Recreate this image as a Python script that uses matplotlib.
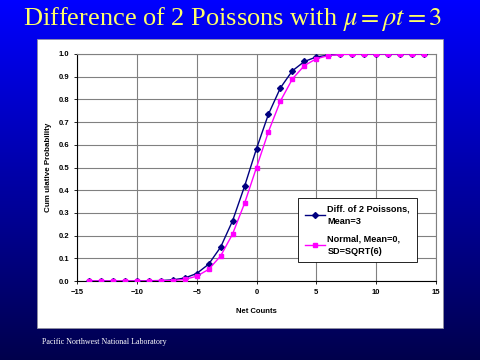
import matplotlib
matplotlib.use("Agg")
import matplotlib.pyplot as plt
from matplotlib.patches import Rectangle
import numpy as np

# Values
net_counts = list(range(-14, 15))
poisson_diff = [0.0, 0.0, 0.0, 0.0, 0.0, 0.001, 0.002, 0.005, 0.013, 0.033,
                0.074, 0.149, 0.265, 0.417, 0.583, 0.735, 0.851, 0.926, 0.967,
                0.987, 0.995, 0.998, 1.0, 1.0, 1.0, 1.0, 1.0, 1.0, 1.0]
normal_cdf = [0.0, 0.0, 0.0, 0.0, 0.0, 0.0, 0.001, 0.002, 0.007, 0.021,
              0.051, 0.110, 0.207, 0.342, 0.5, 0.658, 0.793, 0.890, 0.949,
              0.979, 0.993, 0.998, 0.999, 1.0, 1.0, 1.0, 1.0, 1.0, 1.0]
x_ticks = [-15, -10, -5, 0, 5, 10, 15]
y_ticks = [0.0, 0.1, 0.2, 0.3, 0.4, 0.5, 0.6, 0.7, 0.8, 0.9, 1.0]

plt.rcParams['mathtext.fontset'] = 'stix'

fig = plt.figure(figsize=(4.8, 3.6), dpi=100)

# slide background: vertical blue gradient
bg = fig.add_axes([0, 0, 1, 1], zorder=-10)
grad = np.linspace(0, 1, 256).reshape(-1, 1)
top = np.array([0.0, 0.0, 1.0])
bottom = np.array([0.0, 0.0, 0.30])
img = top + (bottom - top) * grad[:, :, None]
bg.imshow(img, aspect='auto', extent=[0, 1, 0, 1])
bg.set_axis_off()

# white chart panel
fig.patches.append(Rectangle((37 / 480, 1 - 328 / 360), 406 / 480, 289 / 360,
                             transform=fig.transFigure, facecolor='white',
                             edgecolor='#9090a0', linewidth=0.6, zorder=-5))

fig.text(233 / 480, 0.948, r"Difference of 2 Poissons with $\mu = \rho t = 3$",
         family='Liberation Serif', fontsize=19, color='#ffff66',
         ha='center', va='center')
fig.text(42 / 480, 1 - 342 / 360, "Pacific Northwest National Laboratory",
         family='Liberation Serif', fontsize=5.8, color='white',
         ha='left', va='center')

ax = fig.add_axes([77 / 480, 1 - 281 / 360, 359 / 480, 227 / 360])
ax.set_facecolor('white')

ax.plot(net_counts, poisson_diff, color='#000080', marker='D', markersize=3,
        linewidth=1.0, label='Diff. of 2 Poissons,\nMean=3', zorder=3)
ax.plot(net_counts, normal_cdf, color='#ff00ff', marker='s', markersize=3.5,
        linewidth=1.0, label='Normal, Mean=0,\nSD=SQRT(6)', zorder=4)

ax.set_xlim(-15, 15)
ax.set_ylim(0, 1.0)
ax.set_xticks(x_ticks)
ax.set_yticks(y_ticks)
ax.set_yticklabels([f"{v:.1f}" for v in y_ticks])
ax.grid(True, color='#808080', linewidth=0.8)
ax.set_axisbelow(True)
for side in ['top', 'right']:
    ax.spines[side].set_color('#808080')
    ax.spines[side].set_linewidth(0.8)
for side in ['left', 'bottom']:
    ax.spines[side].set_color('black')
    ax.spines[side].set_linewidth(0.8)
ax.tick_params(direction='out', length=2.5, width=0.6, pad=3, labelsize=5.5)
for lbl in ax.get_xticklabels() + ax.get_yticklabels():
    lbl.set_family('Liberation Sans')
    lbl.set_fontweight('bold')

ax.set_xlabel("Net Counts", family='Liberation Sans', fontsize=5.5,
              fontweight='bold', labelpad=9)
ax.set_ylabel("Cum ulative Probability",
              family='Liberation Sans', fontsize=5.8, fontweight='bold',
              labelpad=5)

leg = ax.legend(loc='upper left', bbox_to_anchor=(0.616, 0.366),
                borderaxespad=0,
                prop={'family': 'Liberation Sans', 'weight': 'bold', 'size': 6.6},
                frameon=True, fancybox=False, borderpad=0.7, labelspacing=0.9,
                handlelength=2.2, handletextpad=0.3)
for t in leg.get_texts():
    t.set_linespacing(1.5)
leg.get_frame().set_edgecolor('black')
leg.get_frame().set_linewidth(0.6)
leg.get_frame().set_alpha(1)

fig.savefig("out.png", dpi=100)
